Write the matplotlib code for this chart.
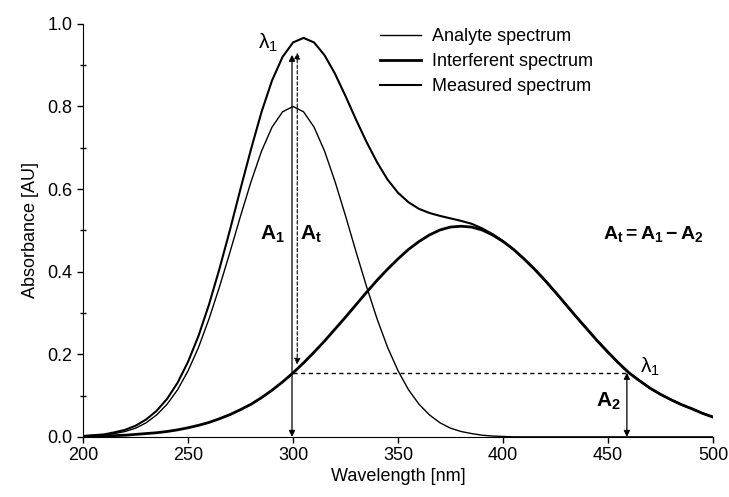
import numpy as np
import matplotlib
matplotlib.use("Agg")
import matplotlib.pyplot as plt

plt.rcParams['font.family'] = ['Liberation Sans', 'DejaVu Sans']
plt.rcParams['mathtext.fontset'] = 'custom'
plt.rcParams['mathtext.rm'] = 'Liberation Sans'
plt.rcParams['mathtext.it'] = 'Liberation Sans:italic'
plt.rcParams['mathtext.bf'] = 'Liberation Sans:bold'

# wavelength grid [nm], read at 5 nm steps
wavelength = list(range(200, 505, 5))

# absorbance values
analyte = [0.001, 0.002, 0.004, 0.008, 0.013, 0.021, 0.034, 0.053, 0.079, 0.114,
           0.160, 0.217, 0.286, 0.364, 0.448, 0.535, 0.618, 0.692, 0.750, 0.787,
           0.800, 0.787, 0.750, 0.692, 0.618, 0.535, 0.448, 0.364, 0.286, 0.217,
           0.160, 0.114, 0.079, 0.053, 0.034, 0.021, 0.013, 0.008, 0.004, 0.002,
           0.001, 0.0, 0.0, 0.0, 0.0, 0.0, 0.0, 0.0, 0.0, 0.0,
           0.0, 0.0, 0.0, 0.0, 0.0, 0.0, 0.0, 0.0, 0.0, 0.0, 0.0]

interferent = [0.001, 0.002, 0.002, 0.003, 0.004, 0.006, 0.008, 0.010, 0.013, 0.017,
               0.022, 0.028, 0.035, 0.044, 0.054, 0.066, 0.079, 0.095, 0.113, 0.133,
               0.155, 0.179, 0.205, 0.232, 0.261, 0.290, 0.320, 0.350, 0.379, 0.406,
               0.431, 0.454, 0.473, 0.489, 0.501, 0.508, 0.510, 0.508, 0.501, 0.489,
               0.473, 0.454, 0.431, 0.406, 0.379, 0.350, 0.320, 0.290, 0.261, 0.232,
               0.205, 0.179, 0.155, 0.136, 0.118, 0.103, 0.090, 0.078, 0.068, 0.057, 0.048]

measured = [0.002, 0.004, 0.006, 0.011, 0.017, 0.027, 0.042, 0.063, 0.092, 0.131,
            0.182, 0.245, 0.321, 0.408, 0.502, 0.601, 0.697, 0.787, 0.863, 0.920,
            0.955, 0.966, 0.955, 0.924, 0.879, 0.825, 0.768, 0.714, 0.665, 0.623,
            0.591, 0.568, 0.552, 0.542, 0.535, 0.529, 0.523, 0.516, 0.505, 0.491,
            0.474, 0.454, 0.431, 0.406, 0.379, 0.350, 0.320, 0.290, 0.261, 0.232,
            0.205, 0.179, 0.155, 0.136, 0.118, 0.103, 0.090, 0.078, 0.068, 0.057, 0.048]

lam1 = 300      # analyte maximum
lam2 = 460      # wavelength where interferent has the same absorbance
a2 = interferent[wavelength.index(lam1)]

fig = plt.figure(figsize=(7.29, 4.97), dpi=100)
ax = fig.add_axes([0.114, 0.121, 0.864, 0.831])

ax.plot(wavelength, analyte, color='black', lw=1.0, label='Analyte spectrum')
ax.plot(wavelength, interferent, color='black', lw=2.0, label='Interferent spectrum')
ax.plot(wavelength, measured, color='black', lw=1.5, label='Measured spectrum')

# A1 arrow and dashed lambda line
ax.annotate('', xy=(lam1 - 0.5, 0.0), xytext=(lam1 - 0.5, 0.925),
            arrowprops=dict(arrowstyle='<|-|>', color='black', lw=0.9,
                            mutation_scale=9, shrinkA=0, shrinkB=0))
ax.annotate('', xy=(lam1 + 2, a2 + 0.02), xytext=(lam1 + 2, 0.93),
            arrowprops=dict(arrowstyle='<|-|>', color='black', lw=0.8, ls=(0, (3, 2)),
                            mutation_scale=9, shrinkA=0, shrinkB=0))
ax.plot([lam1, lam2], [a2, a2], color='black', lw=1.0, ls=(0, (3, 2.5)))
ax.annotate('', xy=(lam2 - 1, 0.0), xytext=(lam2 - 1, a2),
            arrowprops=dict(arrowstyle='<|-|>', color='black', lw=0.9,
                            mutation_scale=9, shrinkA=0, shrinkB=0))

ax.text(288, 0.955, r'$\mathrm{\lambda_1}$', fontsize=15, ha='center', va='center')
ax.text(470, 0.17, r'$\mathrm{\lambda_1}$', fontsize=15, ha='center', va='center')
ax.text(290, 0.49, r'$\mathbf{A_1}$', fontsize=15, ha='center', va='center')
ax.text(308.5, 0.49, r'$\mathbf{A_t}$', fontsize=15, ha='center', va='center')
ax.text(450, 0.087, r'$\mathbf{A_2}$', fontsize=15, ha='center', va='center')
ax.text(447.5, 0.49, r'$\mathbf{A_t = A_1 - A_2}$', fontsize=14, ha='left', va='center')

ax.set_xlim(200, 500)
ax.set_ylim(0, 1.0)
ax.set_xticks([200, 250, 300, 350, 400, 450, 500])
ax.set_yticks([0.0, 0.2, 0.4, 0.6, 0.8, 1.0])
ax.set_yticks([0.1, 0.3, 0.5, 0.7, 0.9], minor=True)
ax.yaxis.set_major_formatter(matplotlib.ticker.FormatStrFormatter('%.1f'))
ax.tick_params(axis='both', which='major', direction='out', length=4, width=1, labelsize=13)
ax.tick_params(axis='y', which='minor', direction='inout', length=4, width=1)
ax.spines['top'].set_visible(False)
ax.spines['right'].set_visible(False)
ax.set_xlabel('Wavelength [nm]', fontsize=13, labelpad=3)
ax.set_ylabel('Absorbance [AU]', fontsize=13, labelpad=6)

ax.legend(loc='upper left', bbox_to_anchor=(0.471, 0.99), frameon=False,
          fontsize=13, handlelength=2.3, handletextpad=0.6, labelspacing=0.45,
          borderpad=0, borderaxespad=0)

fig.savefig('out.png', dpi=100)
